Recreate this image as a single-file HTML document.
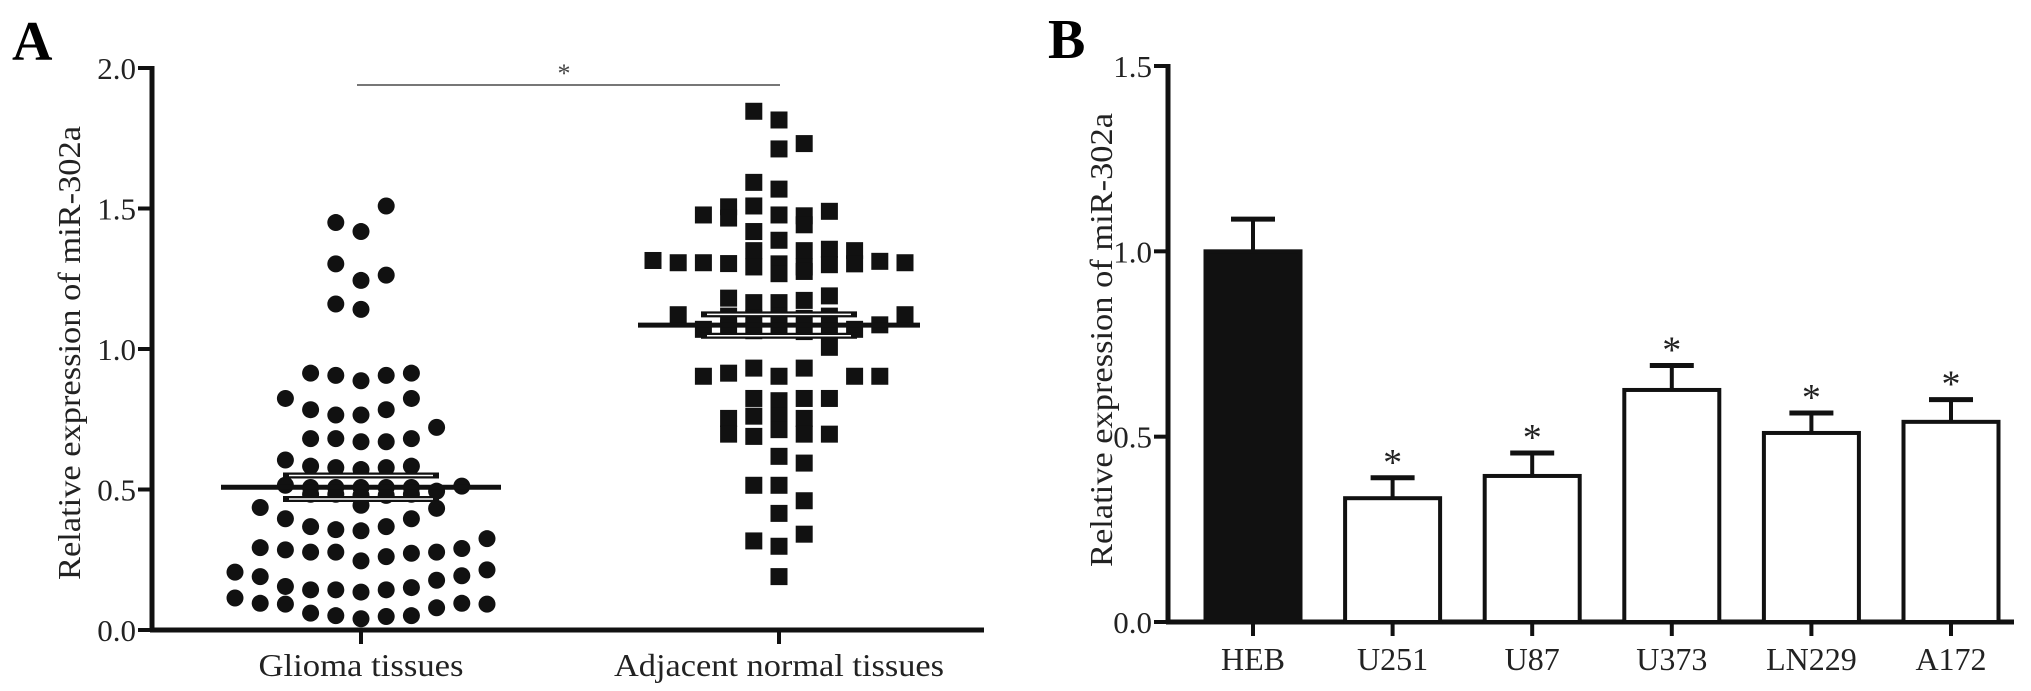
<!DOCTYPE html>
<html><head><meta charset="utf-8"><style>
html,body{margin:0;padding:0;background:#fff;}
svg{display:block;font-family:"Liberation Serif",serif;}
</style></head><body>
<svg id="fig" width="2031" height="691" viewBox="0 0 2031 691" xmlns="http://www.w3.org/2000/svg">
<text x="12" y="60" font-size="56" font-weight="bold">A</text>
<text x="1048" y="58" font-size="56" font-weight="bold">B</text>
<g id="pa"></g>
<g id="pb"></g>
</svg>
<script>
// Panel A data
const aCategories = ["Glioma tissues", "Adjacent normal tissues"];
const aTicks = [0, 0.5, 1.0, 1.5, 2.0];
const gliomaValues = [1.509,1.45,1.418,1.303,1.263,1.244,1.16,1.141,0.914,0.906,0.887,0.906,0.914,0.824,0.824,0.784,0.765,0.765,0.784,0.721,0.681,0.681,0.670,0.670,0.681,0.605,0.583,0.578,0.571,0.578,0.583,0.515,0.507,0.507,0.507,0.507,0.507,0.512,0.494,0.483,0.483,0.479,0.479,0.483,0.436,0.433,0.444,0.396,0.396,0.368,0.357,0.353,0.368,0.293,0.285,0.277,0.277,0.246,0.261,0.273,0.277,0.29,0.325,0.206,0.19,0.214,0.193,0.177,0.155,0.143,0.143,0.135,0.143,0.151,0.114,0.095,0.092,0.092,0.095,0.079,0.06,0.051,0.04,0.048,0.051];
const gliomaCols = [1,-1,0,-1,1,0,-1,0,-2,-1,0,1,2,-3,2,-2,-1,0,1,3,-2,-1,0,1,2,-3,-2,-1,0,1,2,-3,-2,-1,0,1,2,4,3,-2,-1,0,1,2,-4,3,0,-3,2,-2,-1,0,1,-4,-3,-2,-1,0,1,2,3,4,5,-5,-4,5,4,3,-3,-2,-1,0,1,2,-5,-4,-3,5,4,3,-2,-1,0,1,2];
const normalValues = [1.846,1.815,1.731,1.712,1.593,1.569,1.506,1.509,1.49,1.477,1.477,1.474,1.466,1.418,1.387,1.442,1.35,1.35,1.355,1.35,1.315,1.307,1.307,1.304,1.292,1.303,1.292,1.3,1.303,1.312,1.307,1.268,1.276,1.181,1.165,1.165,1.173,1.189,1.122,1.117,1.109,1.117,1.109,1.117,1.122,1.07,1.074,1.065,1.074,1.062,1.065,1.07,1.086,1.006,0.903,0.914,0.932,0.903,0.932,0.903,0.903,0.824,0.816,0.824,0.824,0.753,0.761,0.761,0.753,0.697,0.689,0.713,0.697,0.697,0.618,0.594,0.515,0.515,0.46,0.415,0.317,0.298,0.341,0.19];
const normalCols = [-1,0,1,0,-1,0,-2,-1,2,-3,0,1,-2,-1,0,1,-1,1,2,3,-5,-4,-3,-2,-1,0,1,2,3,4,5,0,1,-2,-1,0,1,2,-4,-2,-1,0,1,2,5,-3,-2,-1,0,1,2,3,4,2,-3,-2,-1,0,1,3,4,-1,0,1,2,-2,-1,0,1,-2,-1,0,1,2,0,1,-1,0,1,0,-1,0,1,0];
const aMeans = [0.508, 1.085];
const aSems = [0.042, 0.038];
// Panel B data
const bCategories = ["HEB","U251","U87","U373","LN229","A172"];
const bValues = [1.0, 0.334, 0.394, 0.626, 0.51, 0.54];
const bErrors = [0.087, 0.055, 0.062, 0.066, 0.054, 0.06];
const bSig = [false, true, true, true, true, true];
const bTicks = [0, 0.5, 1.0, 1.5];

const NS = "http://www.w3.org/2000/svg";
function mk(tag, attrs, parent, txt){const e=document.createElementNS(NS,tag);for(const k in attrs)e.setAttribute(k,attrs[k]);if(txt!==undefined)e.textContent=txt;parent.appendChild(e);return e;}

// ---- Panel A ----
const pa = document.getElementById('pa');
const aAxisX = 152, aY0 = 630, aYTop = 68, aXEnd = 984;
const ay = v => aY0 - v * (aY0 - aYTop) / 2.0;
const aCatX = [361, 779];
const colW = 25.2;
const ax = (ci, c) => aCatX[ci] + c * colW;
let el;
el = mk('line',{x1:aAxisX,y1:ay(2.0)-2,x2:aAxisX,y2:aY0+2,stroke:'#111','stroke-width':5},pa);


el = mk('line',{x1:aAxisX-2,y1:aY0,x2:aXEnd,y2:aY0,stroke:'#111','stroke-width':5},pa);


aTicks.forEach(t=>{
  el = mk('line',{x1:aAxisX-14,y1:ay(t),x2:aAxisX,y2:ay(t),stroke:'#111','stroke-width':4},pa);
  
  
  el = mk('text',{x:aAxisX-16,y:ay(t)+11,'font-size':31,'text-anchor':'end',fill:'#222'},pa,t.toFixed(1));
  
  
});
aCategories.forEach((c,i)=>{
  el = mk('line',{x1:aCatX[i],y1:aY0,x2:aCatX[i],y2:aY0+14,stroke:'#111','stroke-width':4},pa);
  
  
  el = mk('text',{x:aCatX[i],y:676,'font-size':32,'text-anchor':'middle',fill:'#222',textLength:i?330:205,lengthAdjust:'spacingAndGlyphs'},pa,c);
  
  
});
el = mk('text',{x:0,y:0,'font-size':32,'text-anchor':'middle',fill:'#222',transform:'translate(80,353) rotate(-90)',textLength:454,lengthAdjust:'spacingAndGlyphs'},pa,'Relative expression of miR-302a');


el = mk('line',{x1:357,y1:85,x2:780,y2:85,stroke:'#777','stroke-width':2},pa);


el = mk('text',{x:564,y:82,'font-size':26,'text-anchor':'middle',fill:'#444'},pa,'*');


gliomaValues.forEach((v,i)=>{
  el = mk('circle',{cx:ax(0,gliomaCols[i]),cy:ay(v),r:8.5,fill:'#111'},pa);
  
  
});
normalValues.forEach((v,i)=>{
  el = mk('rect',{x:ax(1,normalCols[i])-8.5,y:ay(v)-8.5,width:17,height:17,fill:'#111'},pa);
  
  
});
const meanHalf = [140, 141], semHalf = [78, 78];
aMeans.forEach((m,i)=>{
  [m+aSems[i], m-aSems[i]].forEach(s=>{
    el = mk('line',{x1:aCatX[i]-semHalf[i],y1:ay(s),x2:aCatX[i]+semHalf[i],y2:ay(s),stroke:'#111','stroke-width':6},pa);
    
    
    mk('line',{x1:aCatX[i]-semHalf[i]+6,y1:ay(s),x2:aCatX[i]+semHalf[i]-6,y2:ay(s),stroke:'#fff','stroke-width':1.5},pa);
  });
  el = mk('line',{x1:aCatX[i]-meanHalf[i],y1:ay(m),x2:aCatX[i]+meanHalf[i],y2:ay(m),stroke:'#111','stroke-width':5},pa);
  
  
});

// ---- Panel B ----
const pb = document.getElementById('pb');
const bAxisX = 1168, bY0 = 622, bYTop = 66, bXEnd = 2014;
const by = v => bY0 - v * (bY0 - bYTop) / 1.5;
const bX0 = 1253, bStep = 139.6, bW = 95;
const bx = i => bX0 + i * bStep;
el = mk('line',{x1:bAxisX,y1:by(1.5)-2,x2:bAxisX,y2:bY0+2,stroke:'#111','stroke-width':5},pb);


el = mk('line',{x1:bAxisX-2,y1:bY0,x2:bXEnd,y2:bY0,stroke:'#111','stroke-width':5},pb);


bTicks.forEach(t=>{
  el = mk('line',{x1:bAxisX-14,y1:by(t),x2:bAxisX,y2:by(t),stroke:'#111','stroke-width':4},pb);
  
  
  el = mk('text',{x:bAxisX-16,y:by(t)+11,'font-size':31,'text-anchor':'end',fill:'#222'},pb,t.toFixed(1));
  
  
});
el = mk('text',{x:0,y:0,'font-size':32,'text-anchor':'middle',fill:'#222',transform:'translate(1112,340) rotate(-90)',textLength:454,lengthAdjust:'spacingAndGlyphs'},pb,'Relative expression of miR-302a');


bCategories.forEach((c,i)=>{
  const cx = bx(i), top = by(bValues[i]), et = by(bValues[i]+bErrors[i]);
  el = mk('line',{x1:cx,y1:et,x2:cx,y2:top,stroke:'#111','stroke-width':4},pb);
  
  
  el = mk('line',{x1:cx-22,y1:et,x2:cx+22,y2:et,stroke:'#111','stroke-width':5},pb);
  
  
  el = mk('rect',{x:cx-bW/2,y:top,width:bW,height:bY0-top,fill:i===0?'#111':'#fff',stroke:'#111','stroke-width':4},pb);
  
  
  if(bSig[i]){
    el = mk('text',{x:cx,y:et-3,'font-size':38,'text-anchor':'middle',fill:'#222'},pb,'*');
    
    
  }
  el = mk('line',{x1:cx,y1:bY0,x2:cx,y2:bY0+14,stroke:'#111','stroke-width':4},pb);
  
  
  el = mk('text',{x:cx,y:670,'font-size':32,'text-anchor':'middle',fill:'#222'},pb,c);
  
  
});
</script>
</body></html>
